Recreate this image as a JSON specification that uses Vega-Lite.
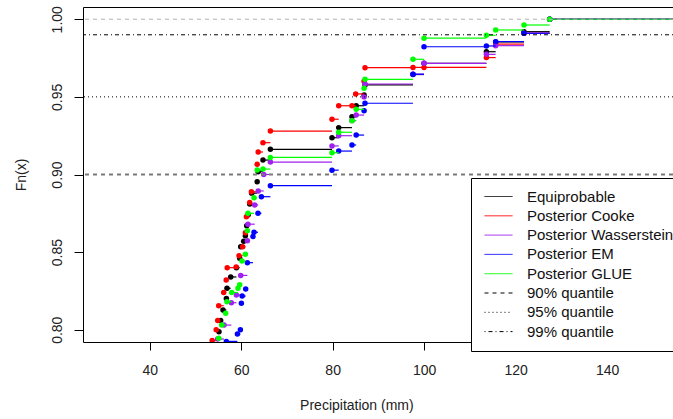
{
  "$schema": "https://vega.github.io/schema/vega-lite/v6.json",
  "width": 590,
  "height": 335,
  "autosize": {"type": "none"},
  "padding": {"left": 83, "top": 7, "right": 0, "bottom": 77},
  "background": "white",
  "config": {
    "font": "Liberation Sans",
    "view": {"stroke": "black", "strokeWidth": 1},
    "axis": {
      "domain": false, "grid": false, "tickColor": "black", "tickWidth": 1,
      "labelFont": "Liberation Sans", "labelFontSize": 14, "labelColor": "#222",
      "titleFont": "Liberation Sans", "titleFontSize": 14, "titleColor": "#222", "titleFontWeight": "normal"
    }
  },
  "datasets": {
    "ecdf": [
      {"series": "Equiprobable", "precip": 55.15, "Fn": 0.7987},
      {"series": "Equiprobable", "precip": 55.52, "Fn": 0.806},
      {"series": "Equiprobable", "precip": 56.03, "Fn": 0.8127},
      {"series": "Equiprobable", "precip": 56.77, "Fn": 0.8202},
      {"series": "Equiprobable", "precip": 56.90, "Fn": 0.8267},
      {"series": "Equiprobable", "precip": 57.71, "Fn": 0.834},
      {"series": "Equiprobable", "precip": 58.96, "Fn": 0.840},
      {"series": "Equiprobable", "precip": 59.68, "Fn": 0.846},
      {"series": "Equiprobable", "precip": 59.90, "Fn": 0.8535},
      {"series": "Equiprobable", "precip": 60.55, "Fn": 0.857},
      {"series": "Equiprobable", "precip": 60.92, "Fn": 0.8606},
      {"series": "Equiprobable", "precip": 61.21, "Fn": 0.867},
      {"series": "Equiprobable", "precip": 61.54, "Fn": 0.874},
      {"series": "Equiprobable", "precip": 61.87, "Fn": 0.881},
      {"series": "Equiprobable", "precip": 62.30, "Fn": 0.888},
      {"series": "Equiprobable", "precip": 63.50, "Fn": 0.8954},
      {"series": "Equiprobable", "precip": 63.72, "Fn": 0.9018},
      {"series": "Equiprobable", "precip": 64.77, "Fn": 0.9093},
      {"series": "Equiprobable", "precip": 66.39, "Fn": 0.9162},
      {"series": "Equiprobable", "precip": 79.86, "Fn": 0.9237},
      {"series": "Equiprobable", "precip": 81.33, "Fn": 0.9302},
      {"series": "Equiprobable", "precip": 84.23, "Fn": 0.9372},
      {"series": "Equiprobable", "precip": 85.15, "Fn": 0.9443},
      {"series": "Equiprobable", "precip": 86.88, "Fn": 0.9512},
      {"series": "Equiprobable", "precip": 87.08, "Fn": 0.9577},
      {"series": "Equiprobable", "precip": 97.57, "Fn": 0.9644},
      {"series": "Equiprobable", "precip": 99.98, "Fn": 0.9716},
      {"series": "Equiprobable", "precip": 113.62, "Fn": 0.9791},
      {"series": "Equiprobable", "precip": 115.65, "Fn": 0.9854},
      {"series": "Equiprobable", "precip": 121.84, "Fn": 0.992},
      {"series": "Equiprobable", "precip": 127.46, "Fn": 1.0},

      {"series": "Posterior Cooke", "precip": 53.67, "Fn": 0.793},
      {"series": "Posterior Cooke", "precip": 54.54, "Fn": 0.800},
      {"series": "Posterior Cooke", "precip": 54.87, "Fn": 0.806},
      {"series": "Posterior Cooke", "precip": 55.09, "Fn": 0.8155},
      {"series": "Posterior Cooke", "precip": 56.18, "Fn": 0.824},
      {"series": "Posterior Cooke", "precip": 56.73, "Fn": 0.832},
      {"series": "Posterior Cooke", "precip": 56.95, "Fn": 0.840},
      {"series": "Posterior Cooke", "precip": 58.91, "Fn": 0.8405},
      {"series": "Posterior Cooke", "precip": 59.53, "Fn": 0.8477},
      {"series": "Posterior Cooke", "precip": 60.33, "Fn": 0.8535},
      {"series": "Posterior Cooke", "precip": 60.92, "Fn": 0.8625},
      {"series": "Posterior Cooke", "precip": 61.14, "Fn": 0.8728},
      {"series": "Posterior Cooke", "precip": 61.87, "Fn": 0.882},
      {"series": "Posterior Cooke", "precip": 62.24, "Fn": 0.8889},
      {"series": "Posterior Cooke", "precip": 63.50, "Fn": 0.9066},
      {"series": "Posterior Cooke", "precip": 63.72, "Fn": 0.9145},
      {"series": "Posterior Cooke", "precip": 64.77, "Fn": 0.9205},
      {"series": "Posterior Cooke", "precip": 66.39, "Fn": 0.928},
      {"series": "Posterior Cooke", "precip": 79.86, "Fn": 0.9356},
      {"series": "Posterior Cooke", "precip": 81.33, "Fn": 0.9443},
      {"series": "Posterior Cooke", "precip": 84.23, "Fn": 0.9443},
      {"series": "Posterior Cooke", "precip": 85.04, "Fn": 0.9519},
      {"series": "Posterior Cooke", "precip": 86.88, "Fn": 0.960},
      {"series": "Posterior Cooke", "precip": 87.08, "Fn": 0.9688},
      {"series": "Posterior Cooke", "precip": 97.57, "Fn": 0.969},
      {"series": "Posterior Cooke", "precip": 99.98, "Fn": 0.969},
      {"series": "Posterior Cooke", "precip": 113.62, "Fn": 0.9753},
      {"series": "Posterior Cooke", "precip": 115.65, "Fn": 0.984},
      {"series": "Posterior Cooke", "precip": 121.84, "Fn": 0.991},
      {"series": "Posterior Cooke", "precip": 127.46, "Fn": 1.0},

      {"series": "Posterior Wasserstein", "precip": 54.87, "Fn": 0.794},
      {"series": "Posterior Wasserstein", "precip": 56.25, "Fn": 0.803},
      {"series": "Posterior Wasserstein", "precip": 57.86, "Fn": 0.8174},
      {"series": "Posterior Wasserstein", "precip": 58.96, "Fn": 0.8224},
      {"series": "Posterior Wasserstein", "precip": 59.90, "Fn": 0.835},
      {"series": "Posterior Wasserstein", "precip": 61.36, "Fn": 0.8573},
      {"series": "Posterior Wasserstein", "precip": 61.49, "Fn": 0.868},
      {"series": "Posterior Wasserstein", "precip": 62.96, "Fn": 0.8804},
      {"series": "Posterior Wasserstein", "precip": 63.72, "Fn": 0.8894},
      {"series": "Posterior Wasserstein", "precip": 64.93, "Fn": 0.900},
      {"series": "Posterior Wasserstein", "precip": 66.39, "Fn": 0.908},
      {"series": "Posterior Wasserstein", "precip": 79.86, "Fn": 0.9184},
      {"series": "Posterior Wasserstein", "precip": 81.33, "Fn": 0.925},
      {"series": "Posterior Wasserstein", "precip": 84.23, "Fn": 0.9347},
      {"series": "Posterior Wasserstein", "precip": 85.15, "Fn": 0.9383},
      {"series": "Posterior Wasserstein", "precip": 86.88, "Fn": 0.950},
      {"series": "Posterior Wasserstein", "precip": 87.08, "Fn": 0.9583},
      {"series": "Posterior Wasserstein", "precip": 97.57, "Fn": 0.9646},
      {"series": "Posterior Wasserstein", "precip": 99.98, "Fn": 0.9716},
      {"series": "Posterior Wasserstein", "precip": 113.62, "Fn": 0.9774},
      {"series": "Posterior Wasserstein", "precip": 115.65, "Fn": 0.983},
      {"series": "Posterior Wasserstein", "precip": 121.84, "Fn": 0.991},
      {"series": "Posterior Wasserstein", "precip": 127.46, "Fn": 1.0},

      {"series": "Posterior EM", "precip": 56.77, "Fn": 0.7925},
      {"series": "Posterior EM", "precip": 59.18, "Fn": 0.7972},
      {"series": "Posterior EM", "precip": 59.83, "Fn": 0.800},
      {"series": "Posterior EM", "precip": 60.05, "Fn": 0.817},
      {"series": "Posterior EM", "precip": 60.22, "Fn": 0.8217},
      {"series": "Posterior EM", "precip": 60.99, "Fn": 0.8262},
      {"series": "Posterior EM", "precip": 61.36, "Fn": 0.8432},
      {"series": "Posterior EM", "precip": 62.59, "Fn": 0.860},
      {"series": "Posterior EM", "precip": 62.81, "Fn": 0.8628},
      {"series": "Posterior EM", "precip": 63.68, "Fn": 0.875},
      {"series": "Posterior EM", "precip": 64.42, "Fn": 0.8857},
      {"series": "Posterior EM", "precip": 66.39, "Fn": 0.8928},
      {"series": "Posterior EM", "precip": 79.86, "Fn": 0.9028},
      {"series": "Posterior EM", "precip": 81.33, "Fn": 0.9151},
      {"series": "Posterior EM", "precip": 84.23, "Fn": 0.919},
      {"series": "Posterior EM", "precip": 85.15, "Fn": 0.9254},
      {"series": "Posterior EM", "precip": 86.88, "Fn": 0.9411},
      {"series": "Posterior EM", "precip": 87.08, "Fn": 0.9459},
      {"series": "Posterior EM", "precip": 97.57, "Fn": 0.9646},
      {"series": "Posterior EM", "precip": 99.98, "Fn": 0.9823},
      {"series": "Posterior EM", "precip": 113.62, "Fn": 0.9828},
      {"series": "Posterior EM", "precip": 115.65, "Fn": 0.9856},
      {"series": "Posterior EM", "precip": 121.84, "Fn": 0.991},
      {"series": "Posterior EM", "precip": 127.46, "Fn": 1.0},

      {"series": "Posterior GLUE", "precip": 55.09, "Fn": 0.7945},
      {"series": "Posterior GLUE", "precip": 55.74, "Fn": 0.803},
      {"series": "Posterior GLUE", "precip": 56.62, "Fn": 0.8106},
      {"series": "Posterior GLUE", "precip": 56.90, "Fn": 0.818},
      {"series": "Posterior GLUE", "precip": 57.93, "Fn": 0.824},
      {"series": "Posterior GLUE", "precip": 59.31, "Fn": 0.8267},
      {"series": "Posterior GLUE", "precip": 59.68, "Fn": 0.829},
      {"series": "Posterior GLUE", "precip": 60.18, "Fn": 0.8443},
      {"series": "Posterior GLUE", "precip": 60.92, "Fn": 0.8486},
      {"series": "Posterior GLUE", "precip": 61.36, "Fn": 0.8638},
      {"series": "Posterior GLUE", "precip": 61.49, "Fn": 0.875},
      {"series": "Posterior GLUE", "precip": 62.81, "Fn": 0.885},
      {"series": "Posterior GLUE", "precip": 63.50, "Fn": 0.9029},
      {"series": "Posterior GLUE", "precip": 64.77, "Fn": 0.9035},
      {"series": "Posterior GLUE", "precip": 66.39, "Fn": 0.911},
      {"series": "Posterior GLUE", "precip": 79.86, "Fn": 0.914},
      {"series": "Posterior GLUE", "precip": 81.33, "Fn": 0.9272},
      {"series": "Posterior GLUE", "precip": 84.23, "Fn": 0.9347},
      {"series": "Posterior GLUE", "precip": 85.15, "Fn": 0.942},
      {"series": "Posterior GLUE", "precip": 86.88, "Fn": 0.9555},
      {"series": "Posterior GLUE", "precip": 87.08, "Fn": 0.9613},
      {"series": "Posterior GLUE", "precip": 97.57, "Fn": 0.9742},
      {"series": "Posterior GLUE", "precip": 99.98, "Fn": 0.9878},
      {"series": "Posterior GLUE", "precip": 113.62, "Fn": 0.9897},
      {"series": "Posterior GLUE", "precip": 115.65, "Fn": 0.9931},
      {"series": "Posterior GLUE", "precip": 121.84, "Fn": 0.9963},
      {"series": "Posterior GLUE", "precip": 127.46, "Fn": 1.0}
    ],
    "quant": [
      {"series": "90% quantile", "Fn": 0.90},
      {"series": "95% quantile", "Fn": 0.95},
      {"series": "99% quantile", "Fn": 0.99}
    ],
    "bounds": [{"Fn": 1.0}]
  },
  "layer": [
    {
      "data": {"name": "ecdf"},
      "transform": [
        {"window": [{"op": "lead", "field": "precip", "as": "next"}], "groupby": ["series"], "sort": [{"field": "precip"}]}
      ],
      "encoding": {
        "x": {"field": "precip", "type": "quantitative", "scale": {"domain": [25.42, 154.42], "nice": false, "zero": false},
              "title": "Precipitation (mm)",
              "axis": {"values": [40, 60, 80, 100, 120, 140], "format": "d", "tickSize": 8, "labelPadding": 13,
                       "titleBaseline": "middle", "titleX": 273.4, "titleY": 63.5}},
        "y": {"field": "Fn", "type": "quantitative", "scale": {"domain": [0.7921, 1.0079], "nice": false, "zero": false},
              "title": "Fn(x)",
              "axis": {"values": [0.8, 0.85, 0.9, 0.95, 1.0], "format": ".2f", "tickSize": 9, "labelAngle": 270,
                       "labelAlign": "center", "labelBaseline": "middle", "labelPadding": 17,
                       "titleAngle": 270, "titleBaseline": "middle", "titleX": -61.6, "titleY": 167.5}},
        "color": {"field": "series", "type": "nominal", "title": null,
                  "scale": {"domain": ["Equiprobable", "Posterior Cooke", "Posterior Wasserstein", "Posterior EM", "Posterior GLUE", "90% quantile", "95% quantile", "99% quantile"],
                            "range": ["#000000", "#FF0000", "#A020F0", "#0000FF", "#00FF00", "#000000", "#000000", "#000000"]},
                  "legend": {"orient": "none", "legendX": 388, "legendY": 171, "strokeColor": "black", "fillColor": "white",
                             "padding": 11, "cornerRadius": 0, "labelFont": "Liberation Sans", "labelFontSize": 15, "labelColor": "#111",
                             "symbolType": "M-0.714,0H3.286", "symbolSize": 196, "symbolStrokeWidth": 1, "labelOffset": 30, "rowPadding": 3.3}}
      },
      "layer": [
        {
          "transform": [{"filter": "datum.series === 'Equiprobable'"}],
          "layer": [
            {"transform": [{"filter": "datum.next != null"}], "mark": {"type": "rule", "clip": true, "strokeWidth": 1.2},
             "encoding": {"x2": {"field": "next"}}},
            {"transform": [{"filter": "datum.Fn >= 1"}], "mark": {"type": "rule", "clip": true, "strokeWidth": 1.2},
             "encoding": {"x2": {"value": "width"}}},
            {"mark": {"type": "circle", "clip": true, "size": 30, "opacity": 1}}
          ]
        },
        {
          "transform": [{"filter": "datum.series === 'Posterior Cooke'"}],
          "layer": [
            {"transform": [{"filter": "datum.next != null"}], "mark": {"type": "rule", "clip": true, "strokeWidth": 1.2},
             "encoding": {"x2": {"field": "next"}}},
            {"transform": [{"filter": "datum.Fn >= 1"}], "mark": {"type": "rule", "clip": true, "strokeWidth": 1.2},
             "encoding": {"x2": {"value": "width"}}},
            {"mark": {"type": "circle", "clip": true, "size": 30, "opacity": 1}}
          ]
        },
        {
          "transform": [{"filter": "datum.series === 'Posterior Wasserstein'"}],
          "layer": [
            {"transform": [{"filter": "datum.next != null"}], "mark": {"type": "rule", "clip": true, "strokeWidth": 1.2},
             "encoding": {"x2": {"field": "next"}}},
            {"transform": [{"filter": "datum.Fn >= 1"}], "mark": {"type": "rule", "clip": true, "strokeWidth": 1.2},
             "encoding": {"x2": {"value": "width"}}},
            {"mark": {"type": "circle", "clip": true, "size": 30, "opacity": 1}}
          ]
        },
        {
          "transform": [{"filter": "datum.series === 'Posterior EM'"}],
          "layer": [
            {"transform": [{"filter": "datum.next != null"}], "mark": {"type": "rule", "clip": true, "strokeWidth": 1.2},
             "encoding": {"x2": {"field": "next"}}},
            {"transform": [{"filter": "datum.Fn >= 1"}], "mark": {"type": "rule", "clip": true, "strokeWidth": 1.2},
             "encoding": {"x2": {"value": "width"}}},
            {"mark": {"type": "circle", "clip": true, "size": 30, "opacity": 1}}
          ]
        },
        {
          "transform": [{"filter": "datum.series === 'Posterior GLUE'"}],
          "layer": [
            {"transform": [{"filter": "datum.next != null"}], "mark": {"type": "rule", "clip": true, "strokeWidth": 1.2},
             "encoding": {"x2": {"field": "next"}}},
            {"transform": [{"filter": "datum.Fn >= 1"}], "mark": {"type": "rule", "clip": true, "strokeWidth": 1.2},
             "encoding": {"x2": {"value": "width"}}},
            {"mark": {"type": "circle", "clip": true, "size": 30, "opacity": 1}}
          ]
        }
      ]
    },
    {
      "data": {"name": "bounds"},
      "mark": {"type": "rule", "color": "#B3B3B3", "strokeDash": [4, 4], "strokeWidth": 1},
      "encoding": {"y": {"field": "Fn", "type": "quantitative"}}
    },
    {
      "data": {"name": "quant"},
      "mark": {"type": "rule", "strokeWidth": 1},
      "encoding": {
        "y": {"field": "Fn", "type": "quantitative"},
        "color": {"field": "series", "type": "nominal", "title": null},
        "strokeDash": {"field": "series", "type": "nominal", "title": null,
                       "scale": {"domain": ["Equiprobable", "Posterior Cooke", "Posterior Wasserstein", "Posterior EM", "Posterior GLUE", "90% quantile", "95% quantile", "99% quantile"],
                                 "range": [[1, 0], [1, 0], [1, 0], [1, 0], [1, 0], [4, 4], [1, 3], [1, 3, 4, 3]]},
                       "legend": {"orient": "none", "legendX": 388, "legendY": 171, "strokeColor": "black", "fillColor": "white",
                                  "padding": 11, "cornerRadius": 0, "labelFont": "Liberation Sans", "labelFontSize": 15, "labelColor": "#111",
                                  "symbolType": "M-0.714,0H3.286", "symbolSize": 196, "symbolStrokeWidth": 1, "labelOffset": 30, "rowPadding": 3.3}}
      }
    },
    {
      "data": {"name": "quant"},
      "transform": [{"filter": "datum.series === '90% quantile'"}],
      "mark": {"type": "rule", "color": "#7A7A7A", "strokeWidth": 2, "strokeDash": [4, 4]},
      "encoding": {"y": {"field": "Fn", "type": "quantitative"}}
    }
  ]
}
